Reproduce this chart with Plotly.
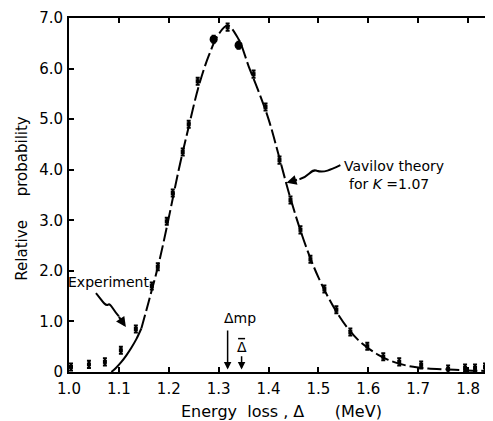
import plotly.graph_objects as go

# Experimental points (energy loss in MeV, relative probability)
exp_x = [1.004, 1.040, 1.072, 1.104, 1.134, 1.166, 1.178, 1.196, 1.208, 1.228,
         1.240, 1.258, 1.318, 1.370, 1.394, 1.422, 1.444, 1.464, 1.484,
         1.512, 1.536, 1.564, 1.598, 1.630, 1.662, 1.706, 1.760, 1.794, 1.814, 1.834]
exp_y = [0.10, 0.15, 0.20, 0.43, 0.85, 1.70, 2.08, 2.98, 3.54, 4.35,
         4.90, 5.75, 6.82, 5.89, 5.24, 4.19, 3.40, 2.81, 2.23,
         1.64, 1.23, 0.79, 0.51, 0.30, 0.20, 0.14, 0.06, 0.08, 0.08, 0.10]
# Experimental points drawn as filled dots near the peak
dot_x = [1.290, 1.340]
dot_y = [6.58, 6.46]

# Vavilov theory curve (kappa = 1.07)
theory_solid_x = [1.085, 1.095, 1.105, 1.115, 1.125, 1.135, 1.145]
theory_solid_y = [0.00, 0.09, 0.20, 0.33, 0.48, 0.65, 0.86]
theory_x = [1.145, 1.16, 1.18, 1.20, 1.22, 1.24, 1.26, 1.28, 1.30, 1.318, 1.34,
            1.36, 1.38, 1.40, 1.42, 1.44, 1.46, 1.48, 1.50, 1.52, 1.54, 1.56,
            1.58, 1.60, 1.62, 1.64, 1.66, 1.68, 1.70, 1.72, 1.76, 1.80, 1.846]
theory_y = [0.86, 1.40, 2.15, 3.05, 4.00, 4.85, 5.65, 6.25, 6.68, 6.85, 6.58,
            6.05, 5.55, 5.00, 4.30, 3.57, 2.92, 2.35, 1.87, 1.47, 1.13, 0.85,
            0.63, 0.47, 0.34, 0.24, 0.17, 0.12, 0.09, 0.07, 0.05, 0.03, 0.02]

x_ticks = [1.0, 1.1, 1.2, 1.3, 1.4, 1.5, 1.6, 1.7, 1.8]
x_tick_text = ["1.0", "1.1", "1.2", "1.3", "1.4", "1.5", "1.6", "1.7", "1.8"]
y_ticks = [0, 1, 2, 3, 4, 5, 6, 7]
y_tick_text = ["0", "1.0", "2.0", "3.0", "4.0", "5.0", "6.0", "7.0"]

delta_mp = 1.318
delta_mean = 1.346

FONT = "DejaVu Sans"
NB = "\u00a0"

fig = go.Figure()

fig.add_trace(go.Scatter(x=theory_solid_x, y=theory_solid_y, mode="lines",
                         line=dict(color="black", width=2, shape="spline"),
                         showlegend=False, hoverinfo="skip"))
fig.add_trace(go.Scatter(x=theory_x, y=theory_y, mode="lines",
                         line=dict(color="black", width=2, shape="spline",
                                   dash="14px,4px"),
                         showlegend=False, hoverinfo="skip"))
fig.add_trace(go.Scatter(x=exp_x, y=exp_y, mode="markers",
                         marker=dict(color="black", size=4, symbol="square"),
                         error_y=dict(type="constant", value=0.07, color="black",
                                      thickness=2, width=2),
                         showlegend=False))
fig.add_trace(go.Scatter(x=dot_x, y=dot_y, mode="markers",
                         marker=dict(color="black", size=8),
                         error_y=dict(type="constant", value=0.07, color="black",
                                      thickness=2, width=2),
                         showlegend=False))

axis_common = dict(showline=True, linecolor="black", linewidth=2, mirror="ticks",
                   ticks="inside", ticklen=5, tickwidth=1.5, tickcolor="black",
                   showgrid=False, zeroline=False,
                   tickfont=dict(family=FONT, size=15, color="black"))

fig.update_xaxes(range=[1.0, 1.846], tickvals=x_ticks, ticktext=x_tick_text,
                 ticklabelstandoff=2, **axis_common)
fig.update_yaxes(range=[0, 7.0], tickvals=y_ticks, ticktext=y_tick_text,
                 ticklabelstandoff=1, **axis_common)

txt_font = dict(family=FONT, size=14, color="black")

annotations = [
    dict(text="Relative" + NB * 5 + "probability", xref="paper", yref="paper",
         x=-0.112, y=0.489, xanchor="center", yanchor="middle", textangle=-90,
         showarrow=False, font=dict(family=FONT, size=15, color="black")),
    dict(text="Energy" + NB * 2 + "loss" + NB + "," + NB + "\u0394" + NB * 6 + "(MeV)",
         xref="paper", yref="paper",
         x=0.5035, y=-0.112, xanchor="center", yanchor="middle", showarrow=False,
         font=dict(family=FONT, size=16, color="black")),
    dict(text="Experiment", x=1.08, y=1.78, showarrow=False, font=txt_font),
    dict(text="Vavilov theory", x=1.548, y=4.08, xanchor="left", showarrow=False,
         font=txt_font),
    dict(text="for <i>K</i> =1.07", x=1.558, y=3.72, xanchor="left", showarrow=False,
         font=txt_font),
    dict(text="\u0394mp", x=delta_mp + 0.024, y=1.07, showarrow=False, font=txt_font),
    dict(text="\u0394", x=delta_mean, y=0.50, showarrow=False, font=txt_font),
    # arrows
    dict(x=delta_mp, y=0.05, ax=delta_mp, ay=0.85, xref="x", yref="y",
         axref="x", ayref="y", text="", showarrow=True, arrowhead=2,
         arrowsize=1, arrowwidth=1.5, arrowcolor="black"),
    dict(x=delta_mean, y=0.05, ax=delta_mean, ay=0.34, xref="x", yref="y",
         axref="x", ayref="y", text="", showarrow=True, arrowhead=2,
         arrowsize=1, arrowwidth=1.5, arrowcolor="black"),
    dict(x=1.114, y=0.89, ax=1.098, ay=1.12, xref="x", yref="y",
         axref="x", ayref="y", text="", showarrow=True, arrowhead=2,
         arrowsize=1, arrowwidth=2, arrowcolor="black"),
    dict(x=1.436, y=3.74, ax=1.46, ay=3.81, xref="x", yref="y",
         axref="x", ayref="y", text="", showarrow=True, arrowhead=2,
         arrowsize=1, arrowwidth=2, arrowcolor="black"),
]

shapes = [
    dict(type="path", xref="x", yref="y",
         path="M 1.054,1.56 C 1.066,1.42 1.072,1.30 1.078,1.33 C 1.084,1.37 1.086,1.25 1.100,1.10",
         line=dict(color="black", width=2)),
    dict(type="path", xref="x", yref="y",
         path="M 1.544,4.09 C 1.525,4.00 1.510,3.93 1.497,3.98 C 1.485,4.03 1.482,3.86 1.462,3.81",
         line=dict(color="black", width=2)),
    # bar over the mean-loss symbol
    dict(type="line", xref="x", yref="y", x0=delta_mean - 0.007, x1=delta_mean + 0.007,
         y0=0.66, y1=0.66, line=dict(color="black", width=1.5)),
]

# page body adds an 8px margin, so the figure is sized to fill the 493x421 window
fig.update_layout(width=485, height=413,
                  margin=dict(l=61, r=0, t=10, b=49),
                  paper_bgcolor="white", plot_bgcolor="white",
                  annotations=annotations, shapes=shapes,
                  showlegend=False)

fig.write_html("out.html")
